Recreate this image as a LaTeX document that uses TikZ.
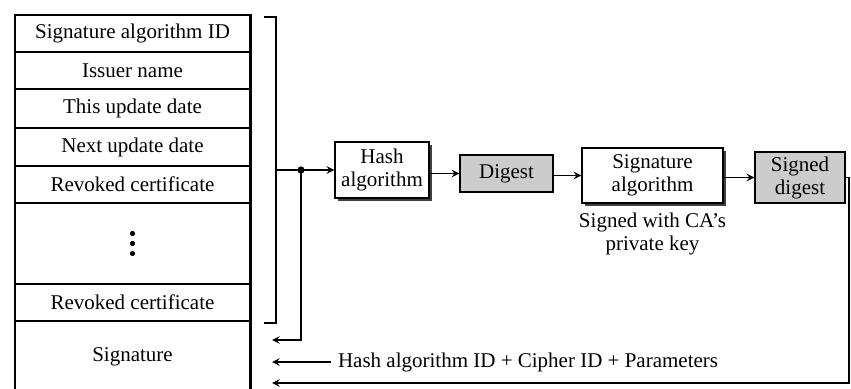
\documentclass[tikz,border=0pt]{standalone}
\usepackage{fontspec}
\setmainfont{Liberation Serif}
\usetikzlibrary{shadows}

\begin{document}
\begin{tikzpicture}[
    x=0.5pt, y=-0.5pt,
    row/.style={
        rectangle,
        draw=black,
        line width=0.7pt,
        minimum width=117.5pt,
        inner sep=0pt,
        font=\fontsize{10.5}{12}\selectfont
    },
    box/.style={
        rectangle,
        draw=black,
        line width=0.7pt,
        inner sep=2pt,
        align=center,
        font=\fontsize{10.5}{11.5}\selectfont
    },
    shbox/.style={
        box,
        fill=white,
        drop shadow={shadow xshift=1.3pt, shadow yshift=-1.3pt, fill=black!75, opacity=1}
    },
    grbox/.style={
        box,
        fill=gray!40
    },
    lbl/.style={
        font=\fontsize{10.5}{11.5}\selectfont,
        align=center
    },
    link/.style={line width=0.7pt},
    >=stealth
]
    \useasboundingbox (0,0) rectangle (851,389);

    % CRL fields
    \node[row, minimum height=18.5pt] (algid)   at (132.5, 33.5)  {Signature algorithm ID};
    \node[row, minimum height=18.5pt] (issuer)  at (132.5, 70.5)  {Issuer name};
    \node[row, minimum height=19.5pt] (thisupd) at (132.5, 108.5) {This update date};
    \node[row, minimum height=19pt]   (nextupd) at (132.5, 147)   {Next update date};
    \node[row, minimum height=18.5pt] (revA)    at (132.5, 184.5) {Revoked certificate};
    \node[row, minimum height=40.5pt] (more)    at (132.5, 243.5) {};
    \node[row, minimum height=18.5pt] (revB)    at (132.5, 302.5) {Revoked certificate};
    \node[row, minimum height=35.5pt] (sig)     at (132.5, 356.5) {Signature};
    \draw[line width=1.4pt] (algid.north east) -- (sig.south east);
    \foreach \dy in {-5pt, 0pt, 5pt}
        \fill ([yshift=\dy]more.center) circle (1.3pt);

    % bracket over the signed fields
    \draw[link] (264,17) -- (276,17) -- (276,323) -- (264,323);

    % signing chain
    \node[shbox, minimum width=47pt, minimum height=28pt]   (hash)   at (382, 170)   {Hash\\algorithm};
    \node[grbox, minimum width=46.5pt, minimum height=18.5pt] (digest) at (506.5, 173.5) {Digest};
    \node[shbox, minimum width=70.5pt, minimum height=27.5pt] (sigalg) at (652.5, 175.5) {Signature\\algorithm};
    \node[grbox, minimum width=45pt, minimum height=25.5pt] (signed) at (800, 177.5) {Signed\\digest};
    \node[lbl] (cakey) at (652.5, 233.5) {Signed with CA's\\private key};

    \coordinate (tap)   at (276, 170);
    \coordinate (split) at (301, 170);
    \coordinate (rc)    at (849, 177.5);
    \coordinate (tipA)  at (272, 340);
    \coordinate (tipB)  at (272, 362);
    \coordinate (tipC)  at (272, 383);

    \draw[link, ->] (tap) -- (hash.west);
    \fill (split) circle (1.8pt);
    \draw[link, ->] (hash.east |- digest) -- (digest.west);
    \draw[link, ->] (digest.east |- sigalg) -- (sigalg.west);
    \draw[link, ->] (sigalg.east |- signed) -- (signed.west);

    % back into the signature field
    \draw[link, ->] (split) |- (tipA);
    \node[lbl, anchor=west] (params) at (331, 362) {Hash algorithm ID + Cipher ID + Parameters};
    \draw[link, ->] (params.west) -- (tipB);
    \draw[link, ->] (signed.east) -- (rc) |- (tipC);

\end{tikzpicture}
\end{document}
